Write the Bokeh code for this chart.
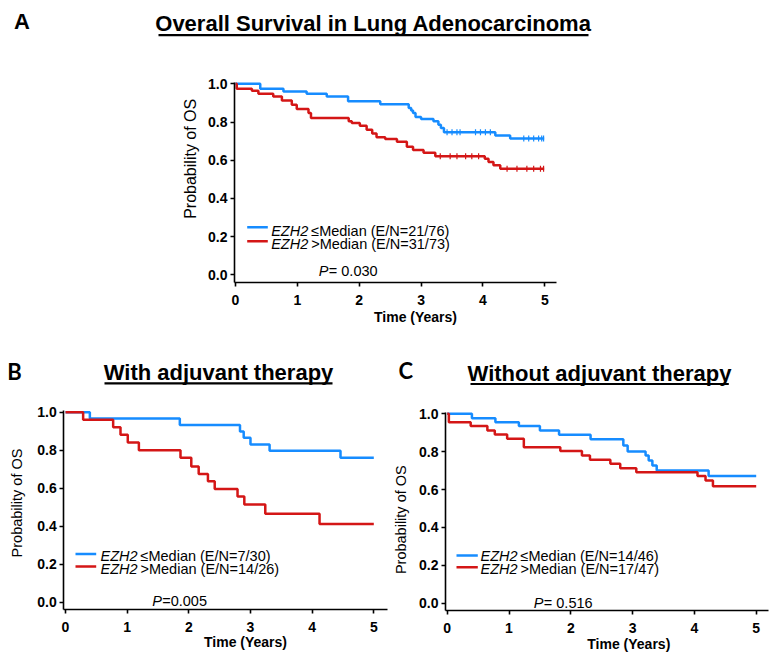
import numpy as np
from bokeh.plotting import figure
from bokeh.layouts import column, row
from bokeh.models import Range1d, Label, BoxAnnotation, PrintfTickFormatter, LinearAxis, FixedTicker
from bokeh.embed import file_html
from bokeh.resources import INLINE

# ---------------- data ----------------
year_ticks = [0, 1, 2, 3, 4, 5]
prob_ticks = [0.0, 0.2, 0.4, 0.6, 0.8, 1.0]

# Panel A: Overall survival
a_low_t = [0, 0.40, 0.775, 1.15, 1.475, 1.82, 2.34, 2.80, 2.84, 2.87, 2.91, 3.00, 3.20, 3.28, 3.32, 3.37, 4.20, 4.44]
a_low_s = [1.0, 0.974, 0.960, 0.948, 0.934, 0.909, 0.893, 0.873, 0.860, 0.847, 0.826, 0.816, 0.804, 0.786, 0.769, 0.746, 0.729, 0.713]
a_low_end = 4.99
a_low_cens = [3.42, 3.50, 3.58, 3.63, 3.88, 3.96, 4.04, 4.12, 4.66, 4.74, 4.82, 4.90, 4.95, 4.98]
a_high_t = [0, 0.02, 0.265, 0.37, 0.61, 0.75, 0.91, 0.99, 1.18, 1.22, 1.83, 1.88, 2.01, 2.12, 2.21, 2.28, 2.42, 2.61, 2.77, 2.87, 3.04, 3.23, 4.03, 4.09, 4.17, 4.28]
a_high_s = [1.0, 0.974, 0.963, 0.948, 0.934, 0.913, 0.890, 0.868, 0.847, 0.821, 0.804, 0.795, 0.781, 0.760, 0.740, 0.720, 0.711, 0.696, 0.670, 0.653, 0.639, 0.621, 0.607, 0.590, 0.573, 0.555]
a_high_end = 4.99
a_high_cens = [3.31, 3.47, 3.58, 3.72, 3.82, 3.93, 4.39, 4.55, 4.71, 4.82, 4.93, 4.98]
a_labels = ["\u2264Median (E/N=21/76)", ">Median (E/N=31/73)"]
a_pvalue = "= 0.030"

# Panel B: with adjuvant therapy
b_low_t = [0, 0.395, 1.854, 2.83, 2.89, 3.00, 3.31, 4.46]
b_low_s = [1.0, 0.967, 0.932, 0.898, 0.865, 0.830, 0.797, 0.760]
b_low_end = 5.0
b_high_t = [0, 0.286, 0.773, 0.892, 1.01, 1.19, 1.865, 2.04, 2.16, 2.31, 2.42, 2.79, 2.90, 3.24, 4.12]
b_high_s = [1.0, 0.960, 0.921, 0.881, 0.840, 0.800, 0.760, 0.714, 0.675, 0.637, 0.596, 0.556, 0.514, 0.465, 0.412]
b_high_end = 5.0
b_labels = ["\u2264Median (E/N=7/30)", ">Median (E/N=14/26)"]
b_pvalue = "=0.005"

# Panel C: without adjuvant therapy
c_low_t = [0, 0.40, 0.78, 1.16, 1.50, 1.81, 2.32, 2.85, 2.92, 3.21, 3.26, 3.32, 3.39, 4.23]
c_low_s = [1.0, 0.977, 0.956, 0.935, 0.912, 0.889, 0.866, 0.833, 0.801, 0.780, 0.754, 0.727, 0.700, 0.671]
c_low_end = 5.0
c_high_t = [0, 0.027, 0.38, 0.65, 0.77, 0.97, 1.24, 1.83, 2.18, 2.31, 2.64, 2.80, 3.06, 4.05, 4.18, 4.30]
c_high_s = [1.0, 0.956, 0.935, 0.912, 0.891, 0.868, 0.824, 0.803, 0.780, 0.757, 0.736, 0.713, 0.692, 0.671, 0.648, 0.618]
c_high_end = 5.0
c_labels = ["\u2264Median (E/N=14/46)", ">Median (E/N=17/47)"]
c_pvalue = "= 0.516"

gene = "EZH2"
ylab = "Probability of OS"
xlab = "Time (Years)"

# ---------------- style / layout ----------------
BLUE = "#168CFF"
RED = "#D41616"
FONT = "Liberation Sans"
LW = 2.5

# page pixel geometry of each panel (canvas = page, no body margin)
GEO = {
    "A": dict(origin=(0, 0), size=(776, 340), frame=(234, 556, 82, 282),
              x0=235, x5=544.3, y0=274.3, y1=83.3),
    "B": dict(origin=(0, 340), size=(390, 319), frame=(63.3, 387, 410, 609),
              x0=65, x5=373.3, y0=601.7, y1=411.7),
    "C": dict(origin=(390, 340), size=(386, 319), frame=(445, 768, 412, 610),
              x0=446.7, x5=755.7, y0=602.7, y1=413.3),
}

# text positions: (x, vertical centre) in page pixels
TXT = {
    "A": dict(letter=("A", 13.4, 21, FONT), title=("Overall Survival in Lung Adenocarcinoma", 373, 23, 158, 588, 34.6),
              ylab=(190, 158.3, 16), xlab=(415, 316),
              leg=(246.7, 267.3, 270.7, [(226.7, 230.7), (240.7, 243)]),
              pval=(318.3, 270.8)),
    "B": dict(letter=("B", 6.7, 370.8, "Lato"), title=("With adjuvant therapy", 218, 371.5, 104, 332, 382.8),
              ylab=(16, 502.5, 14.5), xlab=(245, 641.7),
              leg=(75, 95.7, 100, [(553.5, 555.5), (566, 568.3)]),
              pval=(151.7, 600.7)),
    "C": dict(letter=("C", 398, 370, "Lato"), title=("Without adjuvant therapy", 599, 372.5, 470, 728.3, 383.5),
              ylab=(400, 519.2, 14.5), xlab=(628.3, 643.3),
              leg=(456, 477.3, 480, [(555, 555.5), (566.7, 568.5)]),
              pval=(533.3, 602)),
}


def step_at(t, s, q):
    idx = np.searchsorted(np.asarray(t), np.asarray(q), side="right") - 1
    return list(np.asarray(s)[idx])


def style_axis(ax):
    ax.axis_line_width = 1.6
    ax.axis_line_color = "black"
    ax.major_tick_out = 4
    ax.major_tick_in = 0
    ax.major_tick_line_width = 1.6
    ax.minor_tick_out = 0
    ax.minor_tick_in = 0
    ax.major_label_text_font = FONT
    ax.major_label_text_font_style = "bold"
    ax.major_label_text_font_size = "14px"
    ax.major_label_text_color = "black"


def make_panel(key, curves, labels, pvalue):
    g = GEO[key]
    ox, oy = g["origin"]
    w, h = g["size"]
    fl, fr, ft, fb = g["frame"]
    sx = (g["x5"] - g["x0"]) / 5.0
    sy = (g["y0"] - g["y1"]) / 1.0

    def cx(px):
        return (px - g["x0"]) / sx

    def cy(py):
        return (g["y0"] - py) / sy

    p = figure(width=w, height=h, x_range=Range1d(cx(ox), cx(ox + w)),
               y_range=Range1d(cy(oy + h), cy(oy)), output_backend="svg",
               toolbar_location=None, x_axis_location=None, y_axis_location=None,
               min_border_left=0, min_border_right=0, min_border_top=0, min_border_bottom=0)
    p.min_border = 0
    p.outline_line_color = None
    p.grid.visible = False
    p.background_fill_color = "white"
    p.border_fill_color = "white"

    xaxis = LinearAxis(fixed_location=cy(fb), bounds=(cx(fl), cx(fr)),
                       ticker=FixedTicker(ticks=year_ticks))
    style_axis(xaxis)
    xaxis.major_label_standoff = 8
    p.add_layout(xaxis, "below")
    yaxis = LinearAxis(fixed_location=cx(fl), bounds=(cy(fb), cy(ft)),
                       ticker=FixedTicker(ticks=prob_ticks),
                       formatter=PrintfTickFormatter(format="%.1f"))
    style_axis(yaxis)
    yaxis.major_label_standoff = 3
    p.add_layout(yaxis, "left")

    for (t, s, end, cens), col in zip(curves, (BLUE, RED)):
        p.step(x=list(t) + [end], y=list(s) + [s[-1]], mode="after", line_width=LW, line_color=col)
        if cens:
            p.scatter(x=cens, y=step_at(t, s, cens), marker="dash", angle=np.pi / 2, size=6,
                      line_color=col, line_width=1.2)

    tx = TXT[key]

    def lab(px, py, text, size, style="normal", align="left", angle=0.0, font=FONT, x_offset=0):
        p.add_layout(Label(x=cx(px), y=cy(py), text=text, text_font=font, text_font_size=f"{size}px",
                           text_font_style=style, text_align=align, text_baseline="middle",
                           angle=angle, x_offset=x_offset, text_color="black"))

    # panel letter and title
    letter, lx, ly, lfont = tx["letter"]
    lab(lx, ly, letter, 22, "bold", font=lfont)
    title, tcx, tcy, ul_l, ul_r, ul_y = tx["title"]
    lab(tcx, tcy, title, 22, "bold", align="center")
    p.add_layout(BoxAnnotation(left=cx(ul_l), right=cx(ul_r), bottom=cy(ul_y + 1.1), top=cy(ul_y - 1.1),
                               fill_color="black", fill_alpha=1.0, line_color=None))

    # axis labels
    yx, yy, ysz = tx["ylab"]
    lab(yx, yy, ylab, ysz, align="center", angle=np.pi / 2)
    xx, xy = tx["xlab"]
    lab(xx, xy, xlab, 14, "bold", align="center")

    # legend
    sx0, sx1, txx, rows = tx["leg"]
    for (ly_line, ly_text), col, text in zip(rows, (BLUE, RED), labels):
        p.segment(x0=[cx(sx0)], y0=[cy(ly_line)], x1=[cx(sx1)], y1=[cy(ly_line)],
                  line_width=LW, line_color=col)
        lab(txx, ly_text, gene, 14.5, "italic")
        lab(txx, ly_text, text, 14.5, x_offset=40)

    # p-value
    px_, py_ = tx["pval"]
    lab(px_, py_, "P", 14.5, "italic")
    lab(px_, py_, pvalue, 14.5, x_offset=10)
    return p


pA = make_panel("A", [(a_low_t, a_low_s, a_low_end, a_low_cens), (a_high_t, a_high_s, a_high_end, a_high_cens)],
                a_labels, a_pvalue)
pB = make_panel("B", [(b_low_t, b_low_s, b_low_end, None), (b_high_t, b_high_s, b_high_end, None)],
                b_labels, b_pvalue)
pC = make_panel("C", [(c_low_t, c_low_s, c_low_end, None), (c_high_t, c_high_s, c_high_end, None)],
                c_labels, c_pvalue)

layout = column(pA, row(pB, pC))
open("out.html", "w").write(file_html(layout, INLINE))
